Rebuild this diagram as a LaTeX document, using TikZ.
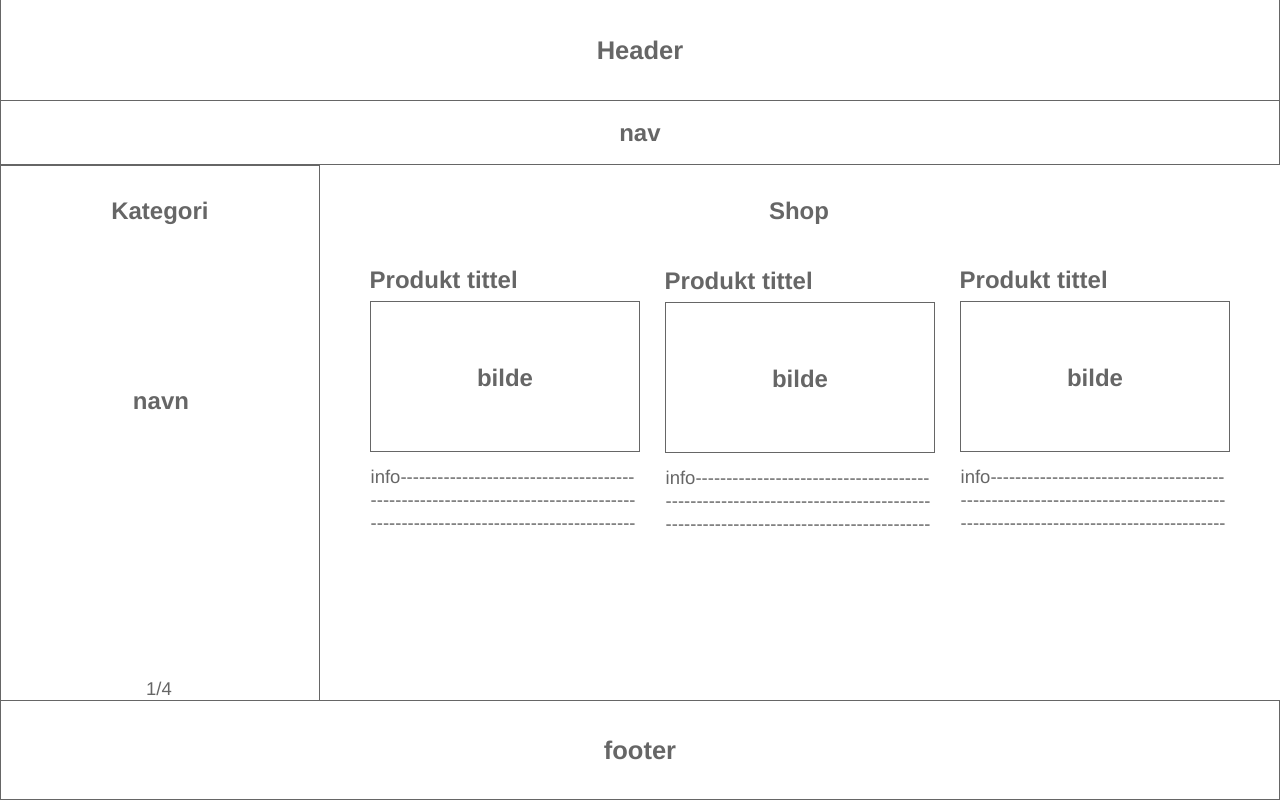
\documentclass[tikz,border=0pt]{standalone}
\usepackage{fontspec}
\setmainfont{Liberation Sans}
\usetikzlibrary{positioning}
\definecolor{wire}{HTML}{666666}
\tikzset{
  frame/.style={draw=wire, line width=1pt, inner sep=0pt, outer sep=0pt},
  title/.style={text=wire, font=\fontsize{24}{28}\selectfont\bfseries, inner sep=0pt},
  bigtitle/.style={text=wire, font=\fontsize{25.5}{30}\selectfont\bfseries, inner sep=0pt},
  info/.style={text=wire, font=\fontsize{18.5}{23}\selectfont, inner sep=0pt, align=left, anchor=north west}
}
% hyphens kept apart so they do not join into dashes
\newcommand{\hy}{-\kern0pt}
\newcommand{\hyten}{\hy\hy\hy\hy\hy\hy\hy\hy\hy\hy}
\newcommand{\rowa}{\hyten\hyten\hyten\hy\hy\hy\hy\hy\hy\hy\hy}
\newcommand{\rowb}{\hyten\hyten\hyten\hyten\hy\hy\hy}
\begin{document}
\begin{tikzpicture}[x=1pt,y=-1pt]
  \useasboundingbox (0,0) rectangle (1280,800);
  % page frame
  \node[frame, minimum width=1279pt, minimum height=100pt] (header) at (640,50) {};
  \node[frame, minimum width=1279pt, minimum height=64.5pt] (nav) at (640,132.5) {};
  \node[frame, minimum width=319.5pt, minimum height=535pt] (side) at (160,432.5) {};
  \node[frame, minimum width=1279pt, minimum height=99.5pt] (footer) at (640,750) {};
  \node[bigtitle] at (640,50) {Header};
  \node[title] at (640,135.5) {nav};
  \node[bigtitle] at (640,750) {footer};
  % sidebar
  \node[title] (kat) at (160,213) {Kategori};
  \node[title] (navn) at (161,403) {navn};
  \node[text=wire, font=\fontsize{18.5}{22}\selectfont, inner sep=0pt] (page) at (159,689) {1/4};
  % shop
  \node[title] (shop) at (799,213) {Shop};
  \foreach \i/\x/\y in {1/370/301.5, 2/665/302.5, 3/960/301.5}{
    \node[frame, anchor=north west, minimum width=269pt, minimum height=150pt] (img\i) at (\x.5,\y) {};
    \node[title] at ([yshift=-1.5pt]img\i.center) {bilde};
    \node[title, anchor=south west] (tit\i) at ([xshift=-1pt,yshift=13pt]img\i.north west) {Produkt tittel};
    \node[info] (info\i) at ([yshift=-18.5pt]img\i.south west) {info\rowa\\\rowb\\\rowb};
  }
\end{tikzpicture}
\end{document}
